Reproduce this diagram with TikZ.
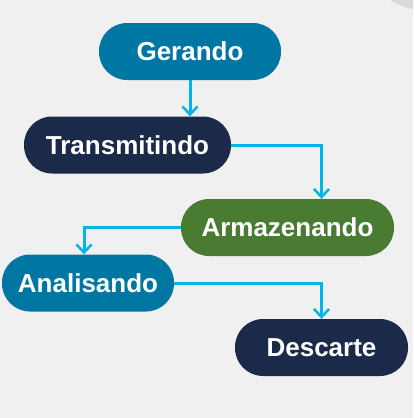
\documentclass[tikz,border=0pt]{standalone}
\usepackage{fontspec}
\setmainfont{Liberation Sans}
\usetikzlibrary{arrows.meta}
\definecolor{bgray}{HTML}{F0F0F0}
\definecolor{petrol}{HTML}{0077A3}
\definecolor{navy}{HTML}{1C2A4A}
\definecolor{leaf}{HTML}{4A7B32}
\definecolor{skyline}{HTML}{00B6E8}
\begin{document}
\begin{tikzpicture}[x=1pt,y=-1pt]
        \tikzstyle{stage} = [rectangle, rounded corners=28pt, text=white, text centered, font=\fontsize{26}{30}\selectfont\bfseries, minimum height=57pt, inner sep=0pt]
        \tikzstyle{line} = [-{Straight Barb[length=8pt,width=15pt,line width=2.5pt]},draw=skyline,line width=3pt]
        \fill[bgray] (0,0) rectangle (413,418);
        \useasboundingbox (0,0) rectangle (413,418);
        \begin{scope}
        \clip (0,0) rectangle (413,418);
        \fill[gray!30] (424,-52) circle (62);
        \end{scope}
        \node[stage,fill=petrol, minimum width=182pt] (gerando) at (190,51.5) {Gerando};
        \node[stage,fill=navy, minimum width=207pt] (transmitindo) at (127.5,145) {Transmitindo};
        \node[stage,fill=leaf, minimum width=213pt] (armazenando) at (287.5,227.5) {Armazenando};
        \node[stage,fill=petrol, minimum width=172pt] (analisando) at (88,283) {Analisando};
        \node[stage,fill=navy, minimum width=173pt] (descarte) at (321.5,347.5) {Descarte};
        \draw[line] (gerando.south) -- (gerando.south |- transmitindo.north);
        \draw[line] (transmitindo.east) -| (armazenando.north -| descarte.north);
        \draw[line] (armazenando.west) -| ([xshift=-4pt]analisando.north);
        \draw[line] (analisando.east) -| (descarte.north);
    \end{tikzpicture}
\end{document}
